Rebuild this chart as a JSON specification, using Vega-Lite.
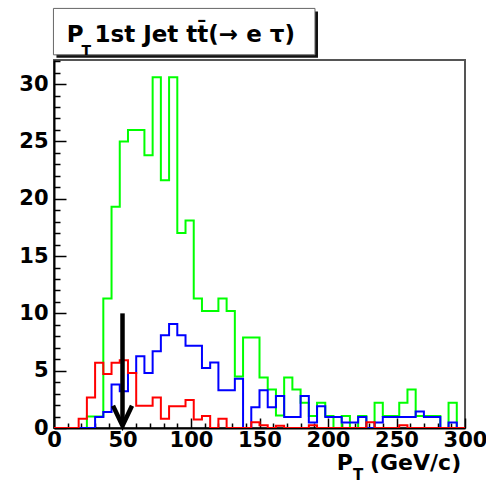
{
  "$schema": "https://vega.github.io/schema/vega-lite/v6.json",
  "width": 411,
  "height": 368,
  "autosize": {"type": "none"},
  "padding": {"left": 54, "top": 60, "right": 21, "bottom": 57},
  "background": "white",
  "config": {
    "view": {"stroke": "#555", "strokeWidth": 2},
    "font": "DejaVu Sans",
    "axis": {
      "tickColor": "black", "tickWidth": 1.5,
      "domainColor": "black", "domainWidth": 2,
      "labelFont": "DejaVu Sans", "labelFontSize": 21, "labelFontWeight": "bold", "labelColor": "black",
      "labelFlush": false, "labelOverlap": false, "labelBound": false,
      "grid": false
    }
  },
  "datasets": {
    "hist": [
      {"pt": 0, "n": 0, "h": "h1"}, {"pt": 6, "n": 0, "h": "h1"}, {"pt": 12, "n": 0, "h": "h1"}, {"pt": 18, "n": 0, "h": "h1"},
      {"pt": 24, "n": 1.0, "h": "h1"}, {"pt": 30, "n": 1.0, "h": "h1"}, {"pt": 36, "n": 11.3, "h": "h1"}, {"pt": 42, "n": 19.3, "h": "h1"},
      {"pt": 48, "n": 25.0, "h": "h1"}, {"pt": 54, "n": 26.0, "h": "h1"}, {"pt": 60, "n": 26.0, "h": "h1"}, {"pt": 66, "n": 23.8, "h": "h1"},
      {"pt": 72, "n": 30.6, "h": "h1"}, {"pt": 78, "n": 21.6, "h": "h1"}, {"pt": 84, "n": 30.6, "h": "h1"}, {"pt": 90, "n": 17.0, "h": "h1"},
      {"pt": 96, "n": 18.1, "h": "h1"}, {"pt": 102, "n": 11.3, "h": "h1"}, {"pt": 108, "n": 10.2, "h": "h1"}, {"pt": 114, "n": 10.2, "h": "h1"},
      {"pt": 120, "n": 11.3, "h": "h1"}, {"pt": 126, "n": 10.2, "h": "h1"}, {"pt": 132, "n": 4.5, "h": "h1"}, {"pt": 138, "n": 7.9, "h": "h1"},
      {"pt": 144, "n": 7.9, "h": "h1"}, {"pt": 150, "n": 4.4, "h": "h1"}, {"pt": 156, "n": 3.35, "h": "h1"}, {"pt": 162, "n": 1.1, "h": "h1"},
      {"pt": 168, "n": 4.4, "h": "h1"}, {"pt": 174, "n": 3.35, "h": "h1"}, {"pt": 180, "n": 2.2, "h": "h1"}, {"pt": 186, "n": 1.05, "h": "h1"},
      {"pt": 192, "n": 2.2, "h": "h1"}, {"pt": 198, "n": 1.05, "h": "h1"}, {"pt": 204, "n": 0, "h": "h1"}, {"pt": 210, "n": 1.05, "h": "h1"},
      {"pt": 216, "n": 0, "h": "h1"}, {"pt": 222, "n": 1.05, "h": "h1"}, {"pt": 228, "n": 0, "h": "h1"}, {"pt": 234, "n": 2.2, "h": "h1"},
      {"pt": 240, "n": 1.05, "h": "h1"}, {"pt": 246, "n": 1.05, "h": "h1"}, {"pt": 252, "n": 2.2, "h": "h1"}, {"pt": 258, "n": 3.35, "h": "h1"},
      {"pt": 264, "n": 1.05, "h": "h1"}, {"pt": 270, "n": 1.05, "h": "h1"}, {"pt": 276, "n": 1.05, "h": "h1"}, {"pt": 282, "n": 0, "h": "h1"},
      {"pt": 288, "n": 2.2, "h": "h1"}, {"pt": 294, "n": 0, "h": "h1"}, {"pt": 300, "n": 0, "h": "h1"},

      {"pt": 0, "n": 0, "h": "h2"}, {"pt": 6, "n": 0, "h": "h2"}, {"pt": 12, "n": 0, "h": "h2"}, {"pt": 18, "n": 0, "h": "h2"},
      {"pt": 24, "n": 0, "h": "h2"}, {"pt": 30, "n": 0.95, "h": "h2"}, {"pt": 36, "n": 1.4, "h": "h2"}, {"pt": 42, "n": 3.8, "h": "h2"},
      {"pt": 48, "n": 3.2, "h": "h2"}, {"pt": 54, "n": 4.8, "h": "h2"}, {"pt": 60, "n": 6.25, "h": "h2"}, {"pt": 66, "n": 4.8, "h": "h2"},
      {"pt": 72, "n": 6.7, "h": "h2"}, {"pt": 78, "n": 8.1, "h": "h2"}, {"pt": 84, "n": 9.07, "h": "h2"}, {"pt": 90, "n": 8.1, "h": "h2"},
      {"pt": 96, "n": 7.17, "h": "h2"}, {"pt": 102, "n": 7.17, "h": "h2"}, {"pt": 108, "n": 5.23, "h": "h2"}, {"pt": 114, "n": 5.72, "h": "h2"},
      {"pt": 120, "n": 3.3, "h": "h2"}, {"pt": 126, "n": 3.3, "h": "h2"}, {"pt": 132, "n": 4.3, "h": "h2"}, {"pt": 138, "n": 0, "h": "h2"},
      {"pt": 144, "n": 1.8, "h": "h2"}, {"pt": 150, "n": 3.3, "h": "h2"}, {"pt": 156, "n": 1.8, "h": "h2"}, {"pt": 162, "n": 2.8, "h": "h2"},
      {"pt": 168, "n": 0.95, "h": "h2"}, {"pt": 174, "n": 0.95, "h": "h2"}, {"pt": 180, "n": 2.8, "h": "h2"}, {"pt": 186, "n": 0.48, "h": "h2"},
      {"pt": 192, "n": 1.9, "h": "h2"}, {"pt": 198, "n": 0.95, "h": "h2"}, {"pt": 204, "n": 0.95, "h": "h2"}, {"pt": 210, "n": 0.48, "h": "h2"},
      {"pt": 216, "n": 0.48, "h": "h2"}, {"pt": 222, "n": 0.95, "h": "h2"}, {"pt": 228, "n": 0, "h": "h2"}, {"pt": 234, "n": 0.48, "h": "h2"},
      {"pt": 240, "n": 0.95, "h": "h2"}, {"pt": 246, "n": 0.95, "h": "h2"}, {"pt": 252, "n": 0.95, "h": "h2"}, {"pt": 258, "n": 0.95, "h": "h2"},
      {"pt": 264, "n": 1.43, "h": "h2"}, {"pt": 270, "n": 0.95, "h": "h2"}, {"pt": 276, "n": 0.95, "h": "h2"}, {"pt": 282, "n": 0, "h": "h2"},
      {"pt": 288, "n": 0.48, "h": "h2"}, {"pt": 294, "n": 0, "h": "h2"}, {"pt": 300, "n": 0, "h": "h2"},

      {"pt": 0, "n": 0, "h": "h3"}, {"pt": 6, "n": 0, "h": "h3"}, {"pt": 12, "n": 0, "h": "h3"}, {"pt": 18, "n": 0.8, "h": "h3"},
      {"pt": 24, "n": 2.65, "h": "h3"}, {"pt": 30, "n": 5.7, "h": "h3"}, {"pt": 36, "n": 4.7, "h": "h3"}, {"pt": 42, "n": 5.7, "h": "h3"},
      {"pt": 48, "n": 5.9, "h": "h3"}, {"pt": 54, "n": 4.8, "h": "h3"}, {"pt": 60, "n": 1.95, "h": "h3"}, {"pt": 66, "n": 1.95, "h": "h3"},
      {"pt": 72, "n": 2.65, "h": "h3"}, {"pt": 78, "n": 0.8, "h": "h3"}, {"pt": 84, "n": 1.9, "h": "h3"}, {"pt": 90, "n": 1.9, "h": "h3"},
      {"pt": 96, "n": 2.45, "h": "h3"}, {"pt": 102, "n": 0.75, "h": "h3"}, {"pt": 108, "n": 1.05, "h": "h3"}, {"pt": 114, "n": 0, "h": "h3"},
      {"pt": 120, "n": 0.8, "h": "h3"}, {"pt": 126, "n": 0, "h": "h3"}, {"pt": 132, "n": 0, "h": "h3"}, {"pt": 138, "n": 0, "h": "h3"},
      {"pt": 144, "n": 0.5, "h": "h3"}, {"pt": 150, "n": 0.25, "h": "h3"}, {"pt": 156, "n": 0, "h": "h3"}, {"pt": 162, "n": 0.2, "h": "h3"},
      {"pt": 168, "n": 0, "h": "h3"}, {"pt": 174, "n": 0, "h": "h3"}, {"pt": 180, "n": 0, "h": "h3"}, {"pt": 186, "n": 0.25, "h": "h3"},
      {"pt": 192, "n": 0, "h": "h3"}, {"pt": 198, "n": 0, "h": "h3"}, {"pt": 204, "n": 0, "h": "h3"}, {"pt": 210, "n": 0, "h": "h3"},
      {"pt": 216, "n": 0, "h": "h3"}, {"pt": 222, "n": 0, "h": "h3"}, {"pt": 228, "n": 0.5, "h": "h3"}, {"pt": 234, "n": 0, "h": "h3"},
      {"pt": 240, "n": 0, "h": "h3"}, {"pt": 246, "n": 0, "h": "h3"}, {"pt": 252, "n": 0.25, "h": "h3"}, {"pt": 258, "n": 0, "h": "h3"},
      {"pt": 264, "n": 0, "h": "h3"}, {"pt": 270, "n": 0, "h": "h3"}, {"pt": 276, "n": 0, "h": "h3"}, {"pt": 282, "n": 0, "h": "h3"},
      {"pt": 288, "n": 0, "h": "h3"}, {"pt": 294, "n": 0, "h": "h3"}, {"pt": 300, "n": 0, "h": "h3"}
    ]
  },
  "encoding": {
    "x": {
      "field": "pt", "type": "quantitative",
      "scale": {"domain": [0, 300], "nice": false, "zero": false},
      "axis": {
        "values": [0, 10, 20, 30, 40, 50, 60, 70, 80, 90, 100, 110, 120, 130, 140, 150, 160, 170, 180, 190, 200, 210, 220, 230, 240, 250, 260, 270, 280, 290, 300],
        "labelExpr": "datum.value % 50 === 0 ? datum.label : ''",
        "tickSize": {"condition": {"test": "datum.value % 50 === 0", "value": -10}, "value": -5},
        "labelPadding": 11,
        "title": null
      }
    },
    "y": {
      "field": "n", "type": "quantitative",
      "scale": {"domain": [0, 32.1], "nice": false},
      "axis": {
        "values": [0, 1, 2, 3, 4, 5, 6, 7, 8, 9, 10, 11, 12, 13, 14, 15, 16, 17, 18, 19, 20, 21, 22, 23, 24, 25, 26, 27, 28, 29, 30, 31, 32],
        "labelExpr": "datum.value % 5 === 0 ? datum.label : ''",
        "tickSize": {"condition": {"test": "datum.value % 5 === 0", "value": -12}, "value": -6},
        "labelPadding": 18,
        "title": null
      }
    }
  },
  "layer": [
    {
      "data": {"values": [{"pt": -0.4, "pt2": 190.5, "n": 36.6, "n2": 32.55}]},
      "mark": {"type": "rect", "fill": "#111", "xOffset": 3, "x2Offset": 3, "yOffset": 3, "y2Offset": 3},
      "encoding": {"x2": {"field": "pt2"}, "y2": {"field": "n2"}}
    },
    {
      "data": {"values": [{"pt": -0.4, "pt2": 190.5, "n": 36.6, "n2": 32.55}]},
      "mark": {"type": "rect", "fill": "white", "stroke": "#666", "strokeWidth": 1},
      "encoding": {"x2": {"field": "pt2"}, "y2": {"field": "n2"}}
    },
    {
      "data": {"values": [{"pt": 0, "n": 32.1}]},
      "layer": [
        {"mark": {"type": "text", "text": "P", "align": "left", "baseline": "alphabetic", "dx": 12.7, "dy": -18.3, "fontSize": 23, "fontWeight": "bold", "font": "DejaVu Sans", "color": "black"}},
        {"mark": {"type": "text", "text": "T", "align": "left", "baseline": "alphabetic", "dx": 27.5, "dy": -5, "fontSize": 14, "fontWeight": "bold", "font": "DejaVu Sans", "color": "black"}},
        {"mark": {"type": "text", "text": "1st Jet tt\u0304(\u2192 e \u03c4)", "align": "left", "baseline": "alphabetic", "dx": 40.5, "dy": -18.3, "fontSize": 23, "fontWeight": "bold", "font": "DejaVu Sans", "color": "black"}}
      ]
    },
    {
      "data": {"name": "hist"},
      "mark": {"type": "line", "interpolate": "step-after", "strokeWidth": 2, "clip": true},
      "encoding": {
        "color": {
          "field": "h", "type": "nominal",
          "scale": {"domain": ["h1", "h2", "h3"], "range": ["#00ff00", "#0000ff", "#ff0000"]},
          "legend": null
        }
      }
    },
    {
      "data": {"values": [{"pt": 50, "n": 10, "n2": 0.4}]},
      "mark": {"type": "rule", "color": "black", "strokeWidth": 4.5},
      "encoding": {"y2": {"field": "n2"}}
    },
    {
      "data": {"values": [{"pt": 50, "n": 0.2}]},
      "mark": {"type": "point", "shape": "M-1,-2.1L0,0L1,-2.1", "filled": false, "stroke": "black", "strokeWidth": 4.5, "strokeJoin": "miter", "size": 361, "opacity": 1}
    },
    {
      "data": {"values": [{"pt": 300, "n": 0}]},
      "layer": [
        {"mark": {"type": "text", "text": "P", "align": "left", "baseline": "alphabetic", "dx": -128.3, "dy": 42, "fontSize": 22, "fontWeight": "bold", "font": "DejaVu Sans", "color": "black"}},
        {"mark": {"type": "text", "text": "T", "align": "left", "baseline": "alphabetic", "dx": -112, "dy": 51.5, "fontSize": 15, "fontWeight": "bold", "font": "DejaVu Sans", "color": "black"}},
        {"mark": {"type": "text", "text": "(GeV/c)", "align": "left", "baseline": "alphabetic", "dx": -95, "dy": 42, "fontSize": 22, "fontWeight": "bold", "font": "DejaVu Sans", "color": "black"}}
      ]
    }
  ]
}
